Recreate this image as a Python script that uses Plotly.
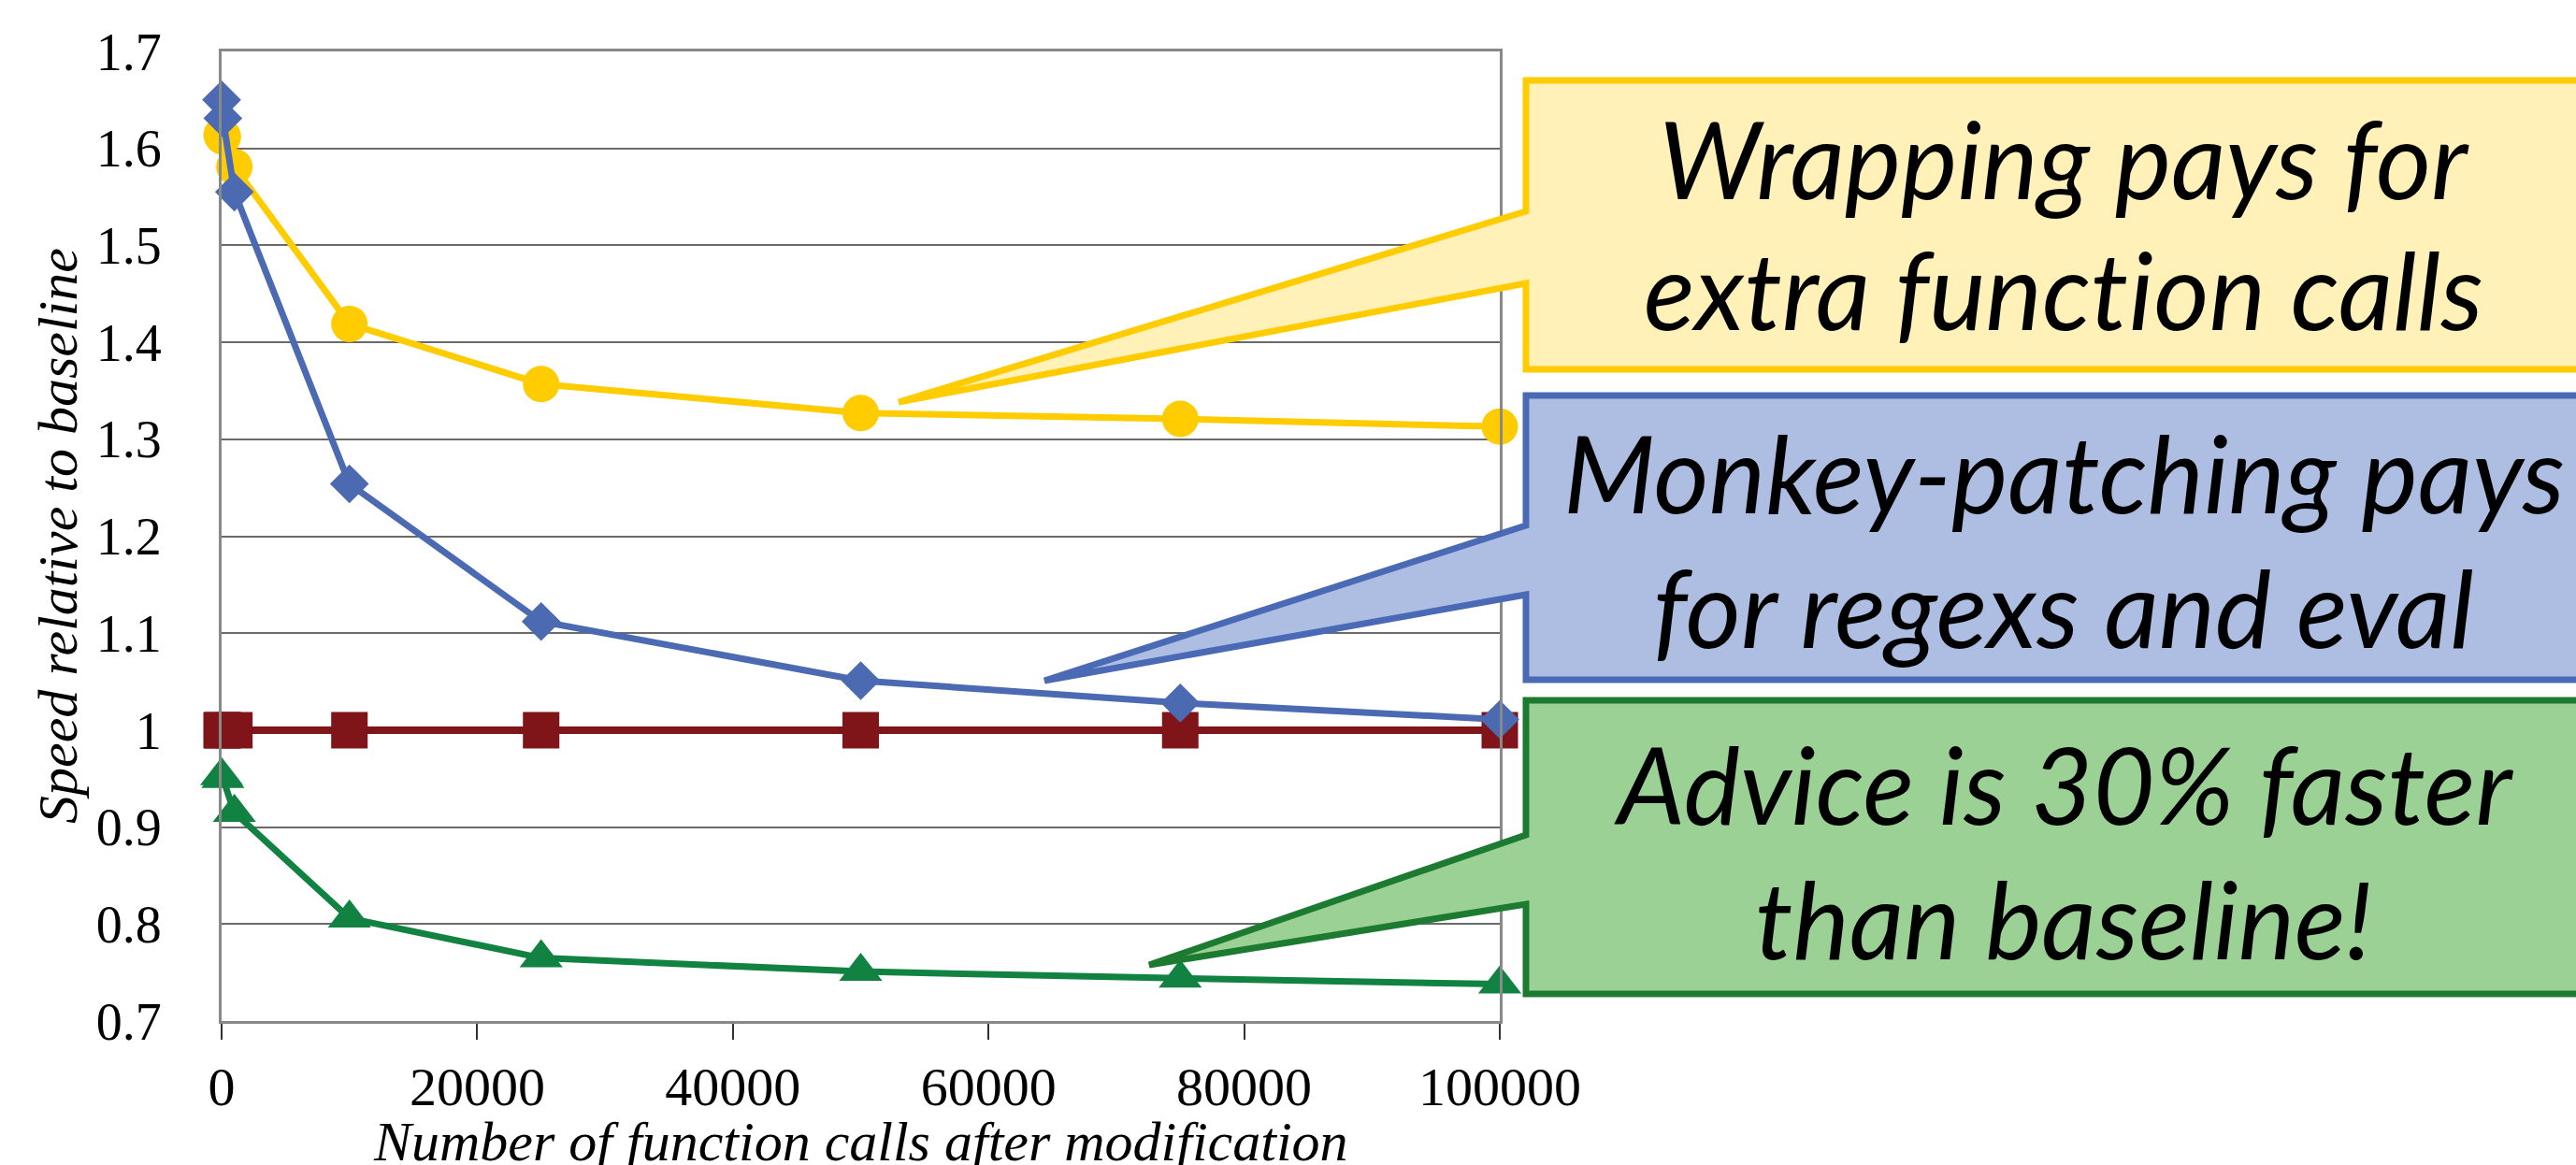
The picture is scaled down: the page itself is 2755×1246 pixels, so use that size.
import plotly.graph_objects as go

# ---------------- data ----------------
calls = [0, 100, 1000, 10000, 25000, 50000, 75000, 100000]
wrapping = [1.614, 1.612, 1.581, 1.419, 1.357, 1.327, 1.321, 1.313]
baseline = [1.0, 1.0, 1.0, 1.0, 1.0, 1.0, 1.0, 1.0]
advice = [0.953, 0.950, 0.915, 0.806, 0.765, 0.751, 0.744, 0.738]
monkey = [1.650, 1.631, 1.555, 1.254, 1.112, 1.051, 1.028, 1.011]

x_tick_vals = [0, 20000, 40000, 60000, 80000, 100000]
x_tick_text = ["0", "20000", "40000", "60000", "80000", "100000"]
y_tick_vals = [0.7, 0.8, 0.9, 1.0, 1.1, 1.2, 1.3, 1.4, 1.5, 1.6, 1.7]
y_tick_text = ["0.7", "0.8", "0.9", "1", "1.1", "1.2", "1.3", "1.4", "1.5", "1.6", "1.7"]

x_title = "Number of function calls after modification"
y_title = "Speed relative to baseline"

# letter-spacing on the "ti" keeps the browser from forming a ligature
callout_wrap = ["Wrapping pays for",
                "extra func<span style='letter-spacing:0.5px'>ti</span>on calls"]
callout_monkey = ["Monkey-patching pays", "for regexs and eval"]
callout_advice = ["Advice is 30% faster", "than baseline!"]

# ---------------- layout geometry (pixels) ----------------
W, H = 2755, 1246
PL, PR, PT, PB = 237, 1604, 55, 1092


def px(X):
    return (X - PL) / (PR - PL)


def py(Y):
    return (PB - Y) / (PB - PT)


YELLOW = "#FFCC00"
RED = "#7F1519"
GREEN = "#118241"
BLUE = "#4B6AB2"

fig = go.Figure()

fig.add_trace(go.Scatter(x=calls, y=wrapping, mode="lines+markers",
                         line=dict(color=YELLOW, width=7),
                         marker=dict(symbol="circle", size=39, color=YELLOW, line=dict(width=0)),
                         cliponaxis=False, name="Wrapping"))
fig.add_trace(go.Scatter(x=calls, y=baseline, mode="lines+markers",
                         line=dict(color=RED, width=8),
                         marker=dict(symbol="square", size=39, color=RED, line=dict(width=0)),
                         cliponaxis=False, name="Baseline"))
fig.add_trace(go.Scatter(x=calls, y=advice, mode="lines+markers",
                         line=dict(color=GREEN, width=7),
                         marker=dict(symbol="triangle-up", size=40, color=GREEN, line=dict(width=0)),
                         cliponaxis=False, name="Advice"))
fig.add_trace(go.Scatter(x=calls, y=monkey, mode="lines+markers",
                         line=dict(color=BLUE, width=7),
                         marker=dict(symbol="diamond", size=32, color=BLUE, line=dict(width=0)),
                         cliponaxis=False, name="Monkey-patching"))


def callout(top, bottom, b1, b2, tip, fill, line):
    pts = [(1632, top), (2820, top), (2820, bottom), (1632, bottom),
           (1632, b2), tip, (1632, b1)]
    path = "M " + " L ".join(f"{px(a):.5f},{py(b):.5f}" for a, b in pts) + " Z"
    return dict(type="path", xref="paper", yref="paper", path=path,
                fillcolor=fill, line=dict(color=line, width=7), layer="above")


shapes = [
    callout(86, 395, 226, 303, (961, 430), "#FFF1B8", YELLOW),
    callout(423, 727, 562, 636, (1117, 728), "#AEBEE3", "#4A6AB5"),
    callout(749, 1063, 893, 967, (1229, 1032), "#9BD195", "#1D7A31"),
]

annotations = []
CF = dict(family="Lato", size=114, color="black", style="italic")
for lines, ys in [(callout_wrap, (168, 308)), (callout_monkey, (504, 648)), (callout_advice, (837, 981))]:
    for t, yy in zip(lines, ys):
        annotations.append(dict(text=t, xref="paper", yref="paper", x=px(2207), y=py(yy),
                                xanchor="center", yanchor="middle", showarrow=False, font=CF))

TF = dict(family="Liberation Serif", size=60, color="black", style="italic")
annotations.append(dict(text=x_title, xref="paper", yref="paper", x=px(920), y=py(1221),
                        xanchor="center", yanchor="middle", showarrow=False, font=TF))
annotations.append(dict(text=y_title, xref="paper", yref="paper", x=px(62), y=py(573),
                        xanchor="center", yanchor="middle", showarrow=False, font=TF, textangle=-90))

fig.update_layout(
    width=W, height=H,
    margin=dict(l=PL, r=W - PR, t=PT, b=H - PB, pad=0),
    paper_bgcolor="white", plot_bgcolor="white",
    showlegend=False,
    shapes=shapes, annotations=annotations,
    xaxis=dict(range=[0, 100000], tickvals=x_tick_vals, ticktext=x_tick_text,
               showgrid=False, zeroline=False,
               showline=True, linecolor="#898989", linewidth=3, mirror=True,
               ticks="outside", ticklen=17, tickwidth=2, tickcolor="#333333",
               ticklabelstandoff=0,
               tickfont=dict(family="Liberation Serif", size=58, color="black")),
    yaxis=dict(range=[0.7, 1.7], tickvals=y_tick_vals, ticktext=y_tick_text,
               showgrid=True, gridcolor="#6a6a6a", gridwidth=2, zeroline=False,
               showline=True, linecolor="#898989", linewidth=3, mirror=True,
               ticks="", ticklabelstandoff=50,
               tickfont=dict(family="Liberation Serif", size=56, color="black")),
)

fig.write_html("out.html")
